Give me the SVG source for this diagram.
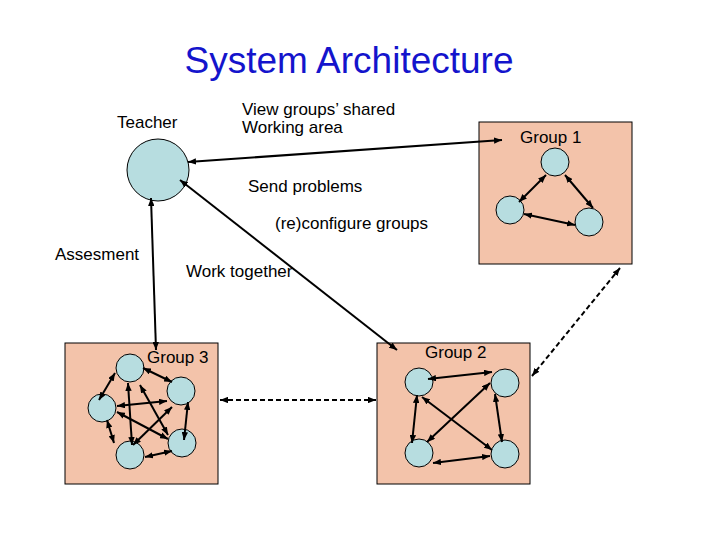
<svg xmlns="http://www.w3.org/2000/svg" width="720" height="540" viewBox="0 0 720 540">
<defs>
<marker id="ah" viewBox="0 0 10 8" refX="10" refY="4" markerWidth="4" markerHeight="3.2" markerUnits="strokeWidth" orient="auto-start-reverse">
<path d="M0,0 L10,4 L0,8 z" fill="#000"/>
</marker>
<style>
.t{font-family:"Liberation Sans",Arial,sans-serif;font-size:17px;fill:#000}
.box{fill:#f3c3aa;stroke:#000;stroke-width:1}
.nd{fill:#b7dde0;stroke:#000;stroke-width:1}
.ln{stroke:#000;stroke-width:2;fill:none;marker-start:url(#ah);marker-end:url(#ah)}
.dl{stroke:#000;stroke-width:2;fill:none;stroke-dasharray:5,3;marker-start:url(#ah);marker-end:url(#ah)}
</style>
</defs>
<rect width="720" height="540" fill="#fff"/>
<text x="349" y="73" text-anchor="middle" style="font-family:'Liberation Sans',Arial,sans-serif;font-size:37px;fill:#1414cc">System Architecture</text>

<g id="group1">
<rect class="box" x="479" y="122" width="153" height="142"/>
<text class="t" x="520" y="143">Group 1</text>
<circle class="nd" cx="555" cy="162" r="14"/>
<circle class="nd" cx="510" cy="210" r="14"/>
<circle class="nd" cx="589" cy="222" r="14"/>
</g>
<g id="group2">
<rect class="box" x="377" y="343" width="153" height="141"/>
<text class="t" x="425" y="358">Group 2</text>
<circle class="nd" cx="419" cy="382" r="14"/>
<circle class="nd" cx="505" cy="383" r="14"/>
<circle class="nd" cx="419" cy="453" r="14"/>
<circle class="nd" cx="505" cy="454" r="14"/>
</g>
<g id="group3">
<rect class="box" x="65" y="343" width="153" height="141"/>
<text class="t" x="147" y="363">Group 3</text>
<circle class="nd" cx="130" cy="368" r="14"/>
<circle class="nd" cx="181" cy="391" r="14"/>
<circle class="nd" cx="102" cy="408" r="14"/>
<circle class="nd" cx="130" cy="455" r="14"/>
<circle class="nd" cx="182" cy="443" r="14"/>
</g>
<g id="teacher">
<circle class="nd" cx="158" cy="170" r="31"/>
<text class="t" x="117" y="128">Teacher</text>
</g>

<g id="labels">
<text class="t" x="242" y="115">View groups’ shared</text>
<text class="t" x="242" y="133">Working area</text>
<text class="t" x="248" y="192">Send problems</text>
<text class="t" x="275" y="229">(re)configure groups</text>
<text class="t" x="55" y="260">Assesment</text>
<text class="t" x="186" y="277">Work together</text>
</g>

<g id="connectors">
<line class="ln" x1="502" y1="140" x2="188" y2="162"/>
<line class="ln" x1="397" y1="350" x2="180" y2="180"/>
<line class="ln" x1="156" y1="350" x2="151" y2="198"/>
<line class="dl" x1="220" y1="400" x2="376" y2="400"/>
<line class="dl" x1="620" y1="268" x2="532" y2="376"/>
<!-- group 1 -->
<line class="ln" x1="546" y1="175" x2="519" y2="202"/>
<line class="ln" x1="565" y1="175" x2="593" y2="208"/>
<line class="ln" x1="524" y1="214" x2="575" y2="225"/>
<!-- group 2 -->
<line class="ln" x1="428" y1="379" x2="492" y2="372"/>
<line class="ln" x1="417" y1="395" x2="412" y2="443"/>
<line class="ln" x1="495" y1="394" x2="502" y2="442"/>
<line class="ln" x1="433" y1="463" x2="490" y2="456"/>
<line class="ln" x1="422" y1="397" x2="492" y2="450"/>
<line class="ln" x1="490" y1="383" x2="427" y2="442"/>
<!-- group 3 -->
<line class="ln" x1="115" y1="373" x2="99" y2="400"/>
<line class="ln" x1="143" y1="368" x2="172" y2="382"/>
<line class="ln" x1="128" y1="383" x2="132" y2="445"/>
<line class="ln" x1="140" y1="385" x2="168" y2="435"/>
<line class="ln" x1="117" y1="406" x2="167" y2="401"/>
<line class="ln" x1="117" y1="412" x2="168" y2="439"/>
<line class="ln" x1="107" y1="420" x2="114" y2="443"/>
<line class="ln" x1="172" y1="407" x2="133" y2="445"/>
<line class="ln" x1="188" y1="402" x2="184" y2="440"/>
<line class="ln" x1="145" y1="457" x2="172" y2="451"/>
</g>
</svg>
